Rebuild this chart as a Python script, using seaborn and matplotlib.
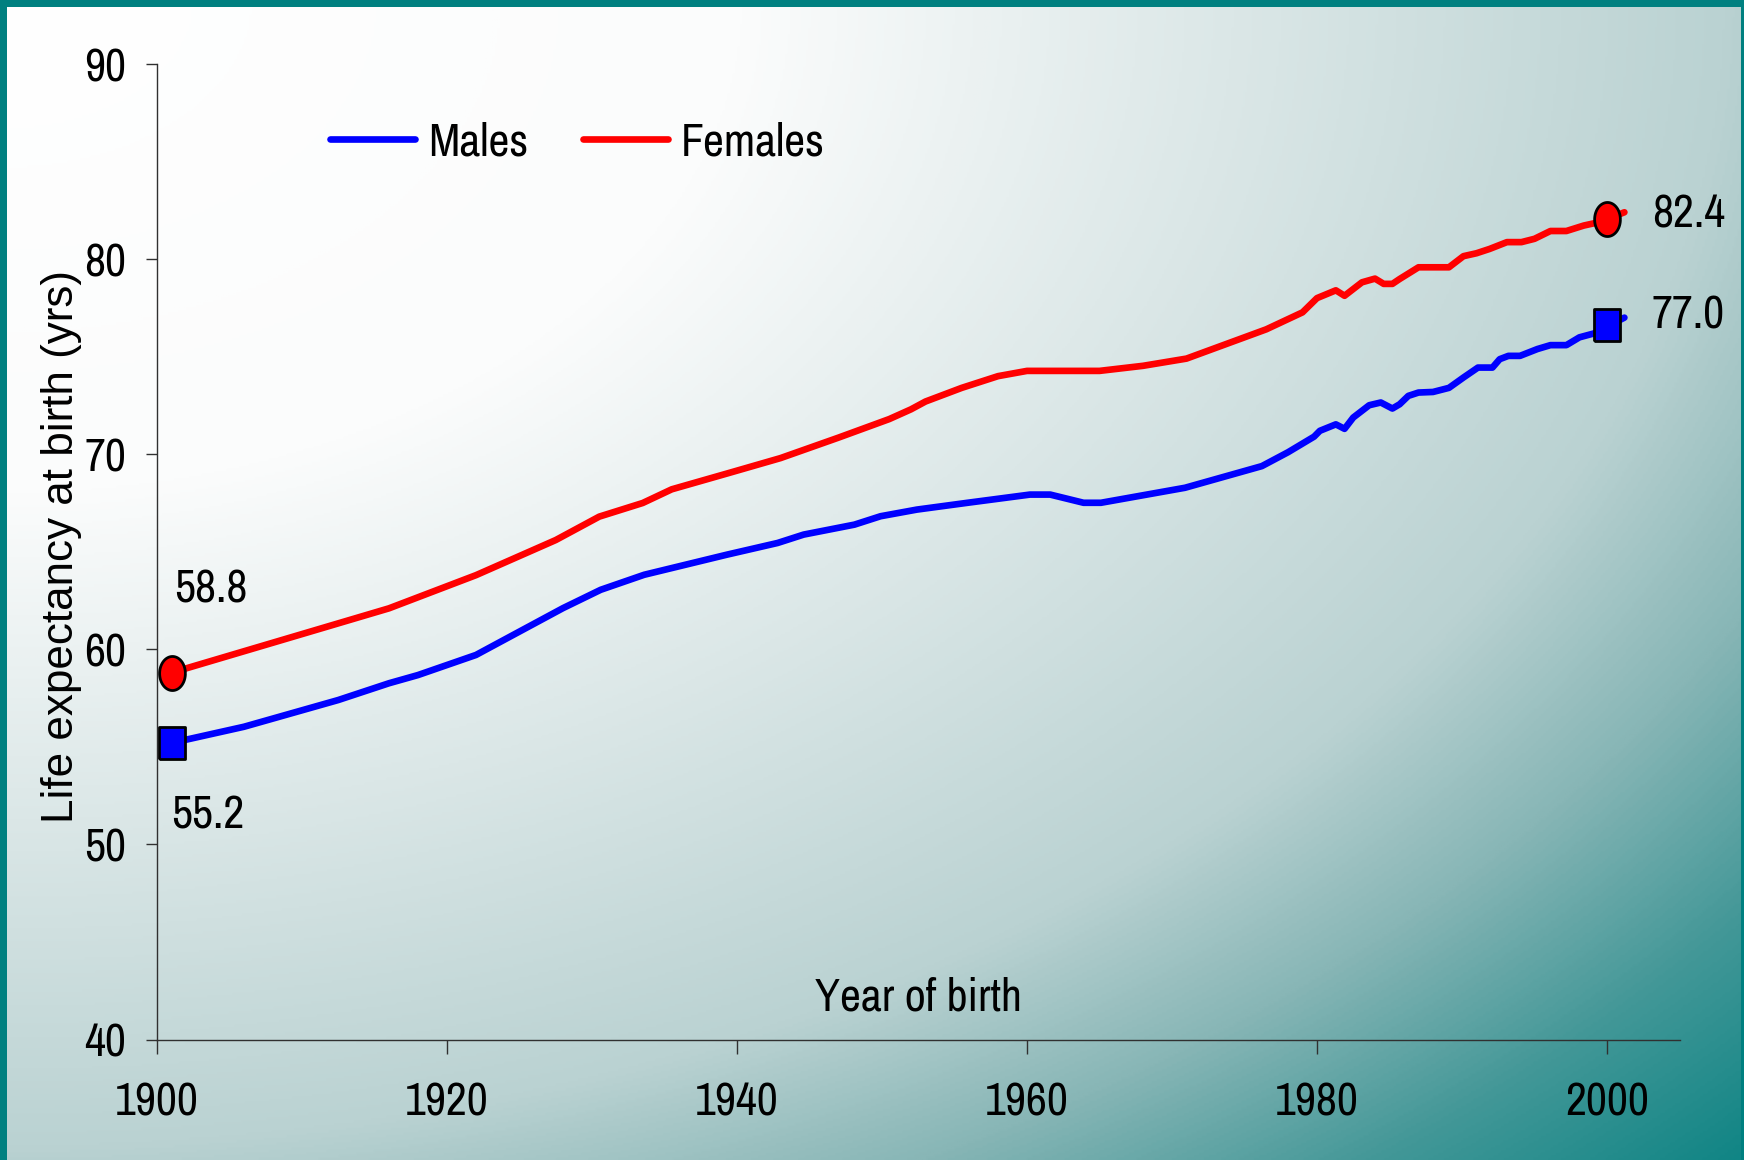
import numpy as np
import pandas as pd
import matplotlib
matplotlib.use("Agg")
import matplotlib.pyplot as plt
from matplotlib.colors import LinearSegmentedColormap
from matplotlib.patches import Rectangle
import seaborn as sns

# Data
male_years = [1901, 1906, 1912.5, 1916, 1918, 1922, 1925, 1928, 1930.6, 1933.6,
              1939.3, 1942.8, 1944.6, 1948.1, 1949.9, 1952.4, 1955.9, 1960.2, 1961.6, 1963.9,
              1965.1, 1970.9, 1976.2, 1978, 1979.8, 1980.2, 1981.3, 1981.9, 1982.5, 1983.6,
              1984.4, 1985.2, 1985.7, 1986.3, 1987, 1988, 1989.1, 1990.1, 1991.1, 1992.1,
              1992.6, 1993.2, 1994, 1995.2, 1996.1, 1997.2, 1998.1, 1999.1, 2001.2]
male_vals = [55.2, 56.03, 57.4, 58.26, 58.68, 59.71, 60.91, 62.11, 63.05, 63.82,
             64.85, 65.45, 65.88, 66.39, 66.82, 67.16, 67.51, 67.93, 67.93, 67.51,
             67.51, 68.28, 69.39, 70.1, 70.9, 71.2, 71.53, 71.3, 71.88, 72.51,
             72.65, 72.34, 72.56, 72.99, 73.16, 73.19, 73.4, 73.93, 74.44, 74.44,
             74.87, 75.04, 75.04, 75.39, 75.59, 75.59, 75.99, 76.19, 77.0]

female_years = [1901, 1906, 1916, 1922, 1927.5, 1930.5, 1933.5, 1935.5, 1939.5, 1943,
                1947, 1950.5, 1952, 1953, 1955.5, 1958, 1960, 1965, 1968, 1971,
                1974.3, 1976.5, 1979, 1980, 1981.3, 1981.9, 1983.1, 1984, 1984.6, 1985.2,
                1985.7, 1987, 1989.1, 1990.1, 1991, 1991.9, 1993.1, 1994.1, 1995, 1996.1,
                1997.2, 1998.4, 1999.5, 2001.2]
female_vals = [58.8, 59.9, 62.1, 63.8, 65.6, 66.8, 67.5, 68.2, 69.05, 69.8,
               70.85, 71.8, 72.3, 72.7, 73.4, 74.0, 74.27, 74.27, 74.53, 74.9,
               75.8, 76.4, 77.27, 78.0, 78.4, 78.12, 78.81, 79.0, 78.73, 78.73,
               78.98, 79.58, 79.58, 80.15, 80.3, 80.52, 80.87, 80.87, 81.04, 81.44,
               81.44, 81.72, 81.9, 82.4]

marker_years = [1901, 2000]
male_marker_vals = [55.2, 76.6]
female_marker_vals = [58.8, 82.05]

label_texts = ["58.8", "55.2", "82.4", "77.0"]

males = pd.DataFrame({"year": male_years, "life": male_vals})
females = pd.DataFrame({"year": female_years, "life": female_vals})

sns.set_style("white")
plt.rcParams["font.family"] = ["Archivo Narrow", "Liberation Sans", "DejaVu Sans"]
plt.rcParams["text.color"] = "black"
plt.rcParams["axes.labelcolor"] = "black"

W, H = 1744, 1160
fig = plt.figure(figsize=(W / 100, H / 100), dpi=100)

# gradient slide background, lightest in the top-left corner
bg = fig.add_axes([0, 0, 1, 1])
u = np.linspace(0, 1, 700)[None, :]
v = np.linspace(0, 1, 470)[:, None]
t = np.clip(np.sqrt(u ** 2 + v ** 2) / np.sqrt(2), 0, 1)
cmap = LinearSegmentedColormap.from_list(
    "slide", [(0, "#ffffff"), (0.3, "#fbfcfc"), (0.5, "#dbe7e7"), (0.7, "#bad2d2"),
              (0.8, "#88b6b6"), (0.9, "#449898"), (1, "#108585")])
bg.imshow(t, cmap=cmap, extent=[0, 1, 0, 1], aspect="auto", origin="upper")
bg.set_axis_off()
for x0, y0, w, h in [(0, 0, 7 / W, 1), (0, 1 - 7 / H, 1, 7 / H), (1 - 3 / W, 0, 3 / W, 1)]:
    fig.add_artist(Rectangle((x0, y0), w, h, transform=fig.transFigure, color="#008080", lw=0))

ax = fig.add_axes([157 / W, 1 - 1039.5 / H, 1522.5 / W, 975.5 / H])
ax.set_facecolor("none")

sns.lineplot(data=males, x="year", y="life", color="#0000ff", lw=4.8, label="Males",
             solid_capstyle="round", solid_joinstyle="round", ax=ax)
sns.lineplot(data=females, x="year", y="life", color="#ff0000", lw=4.8, label="Females",
             solid_capstyle="round", solid_joinstyle="round", ax=ax)

th = np.linspace(0, 2 * np.pi, 72)
ellipse = np.column_stack([0.757 * np.cos(th), np.sin(th)])
rect = np.array([[-0.8, -1], [0.8, -1], [0.8, 1], [-0.8, 1], [-0.8, -1]])
ax.plot(marker_years, female_marker_vals, ls="none", marker=ellipse, ms=24.5,
        mfc="#ff0000", mec="black", mew=2, zorder=5, clip_on=False)
ax.plot(marker_years, male_marker_vals, ls="none", marker=rect, ms=23,
        mfc="#0000ff", mec="black", mew=2, zorder=5, clip_on=False)

fs = 33
ax.text(1901.2, 62.4, label_texts[0], fontsize=fs, va="baseline")
ax.text(1901.0, 50.8, label_texts[1], fontsize=fs, va="baseline")
ax.text(2003.1, 81.64, label_texts[2], fontsize=fs, va="baseline", clip_on=False)
ax.text(2003.1, 76.46, label_texts[3], fontsize=fs, va="baseline", clip_on=False)

ax.set_xlim(1900, 2005)
ax.set_ylim(40, 90)
ax.set_xticks([1900, 1920, 1940, 1960, 1980, 2000])
ax.set_yticks([40, 50, 60, 70, 80, 90])
ax.tick_params(axis="x", bottom=True, length=10, width=1, color="#303030",
               pad=20, labelsize=fs, labelcolor="black")
ax.tick_params(axis="y", left=True, length=8, width=1, color="#303030",
               pad=14, labelsize=fs, labelcolor="black")
sns.despine(ax=ax)
for s in ["left", "bottom"]:
    ax.spines[s].set_color("#303030")
    ax.spines[s].set_linewidth(1)

ax.set_xlabel("Year of birth", fontsize=fs, va="baseline")
ax.xaxis.set_label_coords(0.5, 0.03)
ax.set_ylabel("Life expectancy at birth (yrs)", fontsize=31.7, va="center",
              family=["Liberation Sans", "DejaVu Sans"])
ax.yaxis.set_label_coords(-0.063, 0.505)

ax.legend(loc="center left", bbox_to_anchor=(330 / W, 1 - 142 / H),
          bbox_transform=fig.transFigure, ncol=2, frameon=False, fontsize=fs,
          handlelength=1.86, handletextpad=0.27, columnspacing=1.2,
          borderpad=0, borderaxespad=0)

fig.savefig("out.png", dpi=100)
